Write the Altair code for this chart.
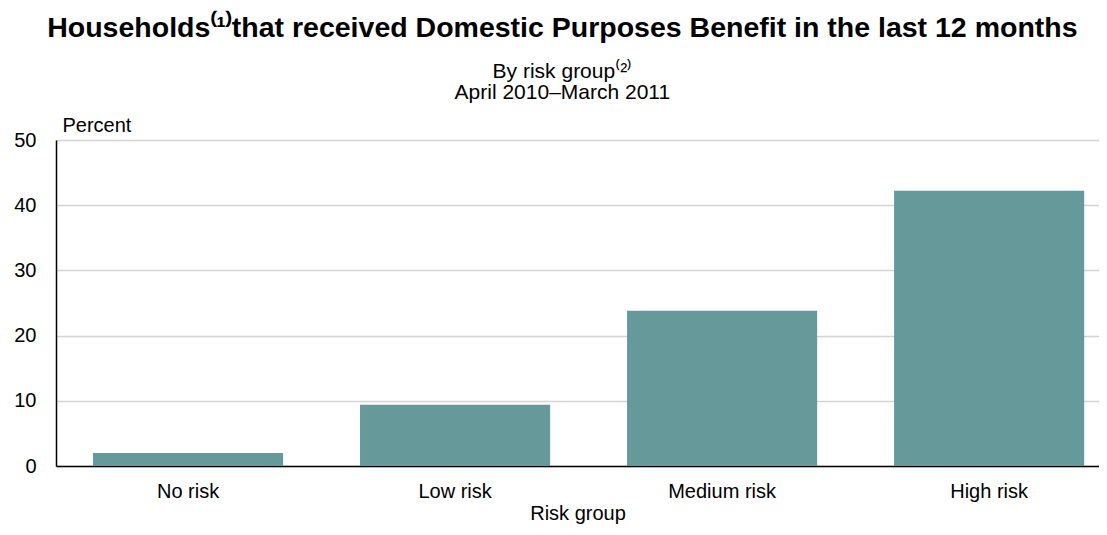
import altair as alt
import pandas as pd

categories = ["No risk", "Low risk", "Medium risk", "High risk"]
values = [2.0, 9.4, 23.8, 42.2]

df = pd.DataFrame({"group": categories, "pct": values})

FONT = "Liberation Sans"

chart = alt.Chart(df).mark_bar(color="#669999").encode(
    x=alt.X("group:N", sort=categories,
            scale=alt.Scale(paddingInner=0.288, paddingOuter=0.097, align=0.714),
            axis=alt.Axis(title="Risk group", labelAngle=0, ticks=False,
                          labelPadding=15, titlePadding=2,
                          domainColor="#000000", domainWidth=1.5,
                          labelFontSize=20, titleFontSize=20, titleFontWeight="normal",
                          labelColor="#000", titleColor="#000",
                          labelFont=FONT, titleFont=FONT)),
    y=alt.Y("pct:Q", scale=alt.Scale(domain=[0, 50]),
            axis=alt.Axis(title="Percent", values=[0, 10, 20, 30, 40, 50],
                          ticks=False, labelPadding=20, grid=True,
                          gridColor="#d4d4d4", gridWidth=1.5,
                          domainColor="#000000", domainWidth=1.5,
                          labelFontSize=20, titleFontSize=20, titleFontWeight="normal",
                          labelColor="#000", titleColor="#000",
                          labelFont=FONT, titleFont=FONT,
                          titleAngle=0, titleAlign="left", titleBaseline="alphabetic",
                          titleX=6, titleY=-9)),
).properties(
    width=1043,
    height=326,
    title=alt.TitleParams(
        text="Households⁽¹⁾that received Domestic Purposes Benefit in the last 12 months",
        subtitle=["By risk group⁽²⁾", "April 2010–March 2011"],
        font=FONT, fontSize=28.5, fontWeight="bold", color="#000",
        subtitleFont=FONT, subtitleFontSize=21, subtitleColor="#000",
        subtitleLineHeight=21, subtitlePadding=19,
        anchor="middle", frame="bounds", offset=12, dx=6,
    ),
    autosize=alt.AutoSizeParams(type="none"),
    padding={"left": 48, "top": 132, "right": 0, "bottom": 61},
).configure_view(stroke=None)

chart.save("out.html", embed_options={"renderer": "svg", "actions": False})
